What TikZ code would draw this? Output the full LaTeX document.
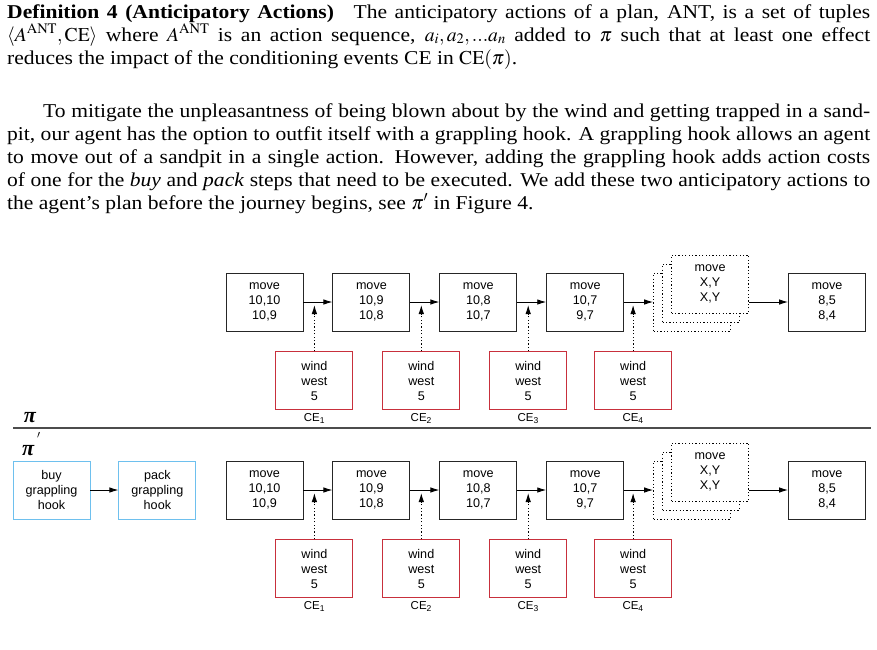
\documentclass[tikz,border=0pt]{standalone}
\usepackage{mathptmx}
\usepackage{amsmath}
\usepackage{fontspec}
\setmainfont[FakeStretch=1.10]{Liberation Serif}
\newfontfamily\diagfont{Liberation Sans}
\newfontfamily\pifont{Liberation Serif}
\usetikzlibrary{positioning, arrows.meta, calc}
\tikzset{
  prose/.style={inner sep=0pt,text width=863pt,align=justify,font=\fontsize{19.6}{23}\selectfont},
  action/.style={rectangle,draw=black!85,line width=0.9pt,fill=white,minimum width=77pt,minimum height=58pt,inner sep=0pt,align=center,font=\diagfont\fontsize{12.6}{15}\selectfont},
  event/.style={action,draw=windred},
  prep/.style={action,draw=hookblue},
  unknown/.style={action,draw=black,dash pattern=on 1.2pt off 2.2pt},
  ce/.style={font=\diagfont\fontsize{11.5}{13}\selectfont},
  flow/.style={line width=0.9pt,-{Latex[length=9pt,width=5.5pt]}},
  cause/.style={flow,dash pattern=on 1.2pt off 2.2pt,shorten >=3pt},
  plan/.style={inner sep=0pt,font=\pifont\fontsize{22}{22}\selectfont\bfseries\itshape},
  rule/.style={draw=black!70,line width=1.2pt},
}
\definecolor{wind_red}{HTML}{C8303C}
\colorlet{windred}{wind_red}
\definecolor{hook_blue}{HTML}{6EC0EE}
\colorlet{hookblue}{hook_blue}

\begin{document}
\begin{tikzpicture}[x=1pt,y=-1pt]
  \useasboundingbox (0,0) rectangle (877,649);
  % text above the figure
  \node[prose,anchor=base west] (def) at (7,18) {\textbf{Definition 4 (Anticipatory Actions)}\quad The anticipatory actions of a plan, ANT, is a set of tuples\linebreak
    $\langle A^{\mathrm{ANT}},\mathrm{CE}\rangle$ where $A^{\mathrm{ANT}}$ is an action sequence, $a_i,a_2,...a_n$ added to $\pi$ such that at least one effect\linebreak
    reduces the impact of the conditioning events CE in $\mathrm{CE}(\pi)$.};
  \node[prose,anchor=base west] (para) at (7,117) {\hspace*{36pt}To mitigate the unpleasantness of being blown about by the wind and getting trapped in a sand-\linebreak
    pit, our agent has the option to outfit itself with a grappling hook. A grappling hook allows an agent\linebreak
    to move out of a sandpit in a single action. However, adding the grappling hook adds action costs\linebreak
    of one for the \emph{buy} and \emph{pack} steps that need to be executed. We add these two anticipatory actions to\linebreak
    the agent's plan before the journey begins, see $\pi'$ in Figure 4.};

  % plan pi
  \node[action] (move1) at (264.5,302) {move\\10,10\\10,9};
  \node[action,right=29pt of move1] (move2) {move\\10,9\\10,8};
  \node[action,right=29pt of move2] (move3) {move\\10,8\\10,7};
  \node[action,right=29pt of move3] (move4) {move\\10,7\\9,7};
  \node[unknown,right=29pt of move4] (xy1) {};
  \node[unknown] (xy2) at ($(xy1)+(9,-9)$) {};
  \node[unknown] (xy3) at ($(xy1)+(18,-18)$) {move\\X,Y\\X,Y};
  \node[action,right=57pt of xy1] (move5) {move\\8,5\\8,4};
  \node[event,below right=20pt and -28pt of move1.south east,label={[ce]below:CE\textsubscript{1}}] (wind1) {wind\\west\\5};
  \node[event,below right=20pt and -28pt of move2.south east,label={[ce]below:CE\textsubscript{2}}] (wind2) {wind\\west\\5};
  \node[event,below right=20pt and -28pt of move3.south east,label={[ce]below:CE\textsubscript{3}}] (wind3) {wind\\west\\5};
  \node[event,below right=20pt and -30pt of move4.south east,label={[ce]below:CE\textsubscript{4}}] (wind4) {wind\\west\\5};
  \draw[flow] (move1) -- (move2);
  \draw[flow] (move2) -- (move3);
  \draw[flow] (move3) -- (move4);
  \draw[flow] (move4) -- (xy1);
  \draw[flow] (xy3.east |- move5) -- (move5);
  \draw[cause] (wind1) -- (wind1 |- move1);
  \draw[cause] (wind2) -- (wind2 |- move2);
  \draw[cause] (wind3) -- (wind3 |- move3);
  \draw[cause] (wind4) -- (wind4 |- move4);

  % separator
  \node[plan] (pi) at (30,418) {π};
  \coordinate (sepL) at (13,428);
  \coordinate (sepR) at (871,428);
  \draw[rule] (sepL) -- (sepR);
  \node[plan,anchor=base west] (piprime) at (22,455) {π\kern3pt\raisebox{17pt}{\normalfont\fontsize{11}{11}\selectfont$\prime$}};

  % plan pi'
  \node[prep] (buy) at (51.5,490) {buy\\grappling\\hook};
  \node[prep,right=28pt of buy] (pack) {pack\\grappling\\hook};
  \node[action] (move1p) at (264.5,490) {move\\10,10\\10,9};
  \node[action,right=29pt of move1p] (move2p) {move\\10,9\\10,8};
  \node[action,right=29pt of move2p] (move3p) {move\\10,8\\10,7};
  \node[action,right=29pt of move3p] (move4p) {move\\10,7\\9,7};
  \node[unknown,right=29pt of move4p] (xy1p) {};
  \node[unknown] (xy2p) at ($(xy1p)+(9,-9)$) {};
  \node[unknown] (xy3p) at ($(xy1p)+(18,-18)$) {move\\X,Y\\X,Y};
  \node[action,right=57pt of xy1p] (move5p) {move\\8,5\\8,4};
  \node[event,below right=20pt and -28pt of move1p.south east,label={[ce]below:CE\textsubscript{1}}] (wind1p) {wind\\west\\5};
  \node[event,below right=20pt and -28pt of move2p.south east,label={[ce]below:CE\textsubscript{2}}] (wind2p) {wind\\west\\5};
  \node[event,below right=20pt and -28pt of move3p.south east,label={[ce]below:CE\textsubscript{3}}] (wind3p) {wind\\west\\5};
  \node[event,below right=20pt and -30pt of move4p.south east,label={[ce]below:CE\textsubscript{4}}] (wind4p) {wind\\west\\5};
  \draw[flow] (buy) -- (pack);
  \draw[flow] (move1p) -- (move2p);
  \draw[flow] (move2p) -- (move3p);
  \draw[flow] (move3p) -- (move4p);
  \draw[flow] (move4p) -- (xy1p);
  \draw[flow] (xy3p.east |- move5p) -- (move5p);
  \draw[cause] (wind1p) -- (wind1p |- move1p);
  \draw[cause] (wind2p) -- (wind2p |- move2p);
  \draw[cause] (wind3p) -- (wind3p |- move3p);
  \draw[cause] (wind4p) -- (wind4p |- move4p);
\end{tikzpicture}
\end{document}
